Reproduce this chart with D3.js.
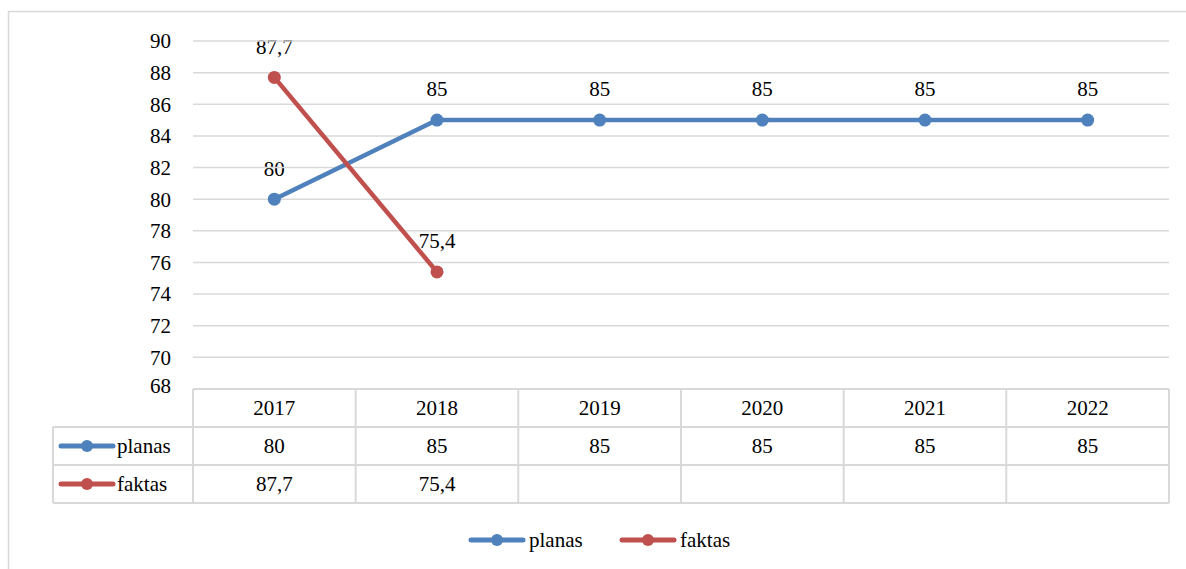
<!DOCTYPE html>
<html>
<head>
<meta charset="utf-8">
<script src="https://cdn.jsdelivr.net/npm/d3@7"></script>
</head>
<body style="margin:0">
<svg id="chart" width="1186" height="569" font-family="Times New Roman, serif" font-size="21"></svg>
<script>
const years = ['2017', '2018', '2019', '2020', '2021', '2022'];
const planas = [80, 85, 85, 85, 85, 85];
const faktas = [87.7, 75.4, null, null, null, null];
const yTicks = [68, 70, 72, 74, 76, 78, 80, 82, 84, 86, 88, 90];
const seriesNames = ['planas', 'faktas'];
const seriesColors = ['#4F81BD', '#C0504D'];

const svg = d3.select('#chart');
const margin = { top: 41, left: 193, right: 17 };
const plotH = 348;
const width = 1186;

const fmt = v => (v == null ? '' : String(v).replace('.', ','));

const x = d3.scaleBand().domain(years).range([margin.left, width - margin.right]);
const y = d3.scaleLinear().domain([68, 90]).range([margin.top + plotH, margin.top]);

// all text first, marks after
const textLayer = svg.append('g');
const markLayer = svg.append('g');

// outer frame
markLayer.append('rect')
  .attr('x', 8.5).attr('y', 11.5)
  .attr('width', 1200).attr('height', 600)
  .attr('fill', 'none').attr('stroke', '#d9d9d9').attr('stroke-width', 1.5);

// gridlines
markLayer.append('g').selectAll('line').data(yTicks.filter(d => d !== 68)).join('line')
  .attr('x1', margin.left).attr('x2', width - margin.right)
  .attr('y1', d => y(d)).attr('y2', d => y(d))
  .attr('stroke', '#d9d9d9').attr('stroke-width', 1.5);

// y axis labels
textLayer.selectAll('text.ytick').data(yTicks).join('text')
  .attr('class', 'ytick')
  .attr('x', margin.left - 22).attr('y', d => y(d))
  .attr('dy', d => (d === 68 ? '0.2em' : '0.35em'))
  .attr('text-anchor', 'end')
  .text(d => d);

// data table
const rowH = 38;
const tableTop = y(68);
const legendColX = 53;
function hline(x1, x2, yy) {
  markLayer.append('line').attr('x1', x1).attr('x2', x2).attr('y1', yy).attr('y2', yy)
    .attr('stroke', '#d9d9d9').attr('stroke-width', 2);
}
function vline(xx, y1, y2) {
  markLayer.append('line').attr('x1', xx).attr('x2', xx).attr('y1', y1).attr('y2', y2)
    .attr('stroke', '#d9d9d9').attr('stroke-width', 2);
}
hline(margin.left, width - margin.right, tableTop);
hline(legendColX, width - margin.right, tableTop + rowH);
hline(legendColX, width - margin.right, tableTop + 2 * rowH);
hline(legendColX, width - margin.right, tableTop + 3 * rowH);
vline(legendColX, tableTop + rowH, tableTop + 3 * rowH);
years.forEach(yr => vline(x(yr), tableTop, tableTop + 3 * rowH));
vline(width - margin.right, tableTop, tableTop + 3 * rowH);

textLayer.selectAll('text.year').data(years).join('text')
  .attr('class', 'year')
  .attr('x', d => x(d) + x.bandwidth() / 2)
  .attr('y', tableTop + rowH / 2)
  .attr('dy', '0.35em').attr('text-anchor', 'middle')
  .text(d => d);

function legendKey(cx, cy, color) {
  markLayer.append('line').attr('x1', cx - 26).attr('x2', cx + 26).attr('y1', cy).attr('y2', cy)
    .attr('stroke', color).attr('stroke-width', 5).attr('stroke-linecap', 'round');
  markLayer.append('circle').attr('cx', cx).attr('cy', cy).attr('r', 6).attr('fill', color);
}

[planas, faktas].forEach((vals, i) => {
  const cy = tableTop + rowH * (i + 1.5);
  legendKey(87, cy, seriesColors[i]);
  textLayer.append('text').attr('x', 117).attr('y', cy).attr('dy', '0.35em')
    .text(seriesNames[i]);
  textLayer.selectAll(null).data(years).join('text')
    .attr('x', d => x(d) + x.bandwidth() / 2)
    .attr('y', cy).attr('dy', '0.35em').attr('text-anchor', 'middle')
    .text((d, j) => fmt(vals[j]));
});

// lines
const line = d3.line()
  .defined(d => d.v != null)
  .x(d => x(d.yr) + x.bandwidth() / 2)
  .y(d => y(d.v));

[planas, faktas].forEach((vals, i) => {
  const pts = years.map((yr, j) => ({ yr, v: vals[j] }));
  markLayer.append('path').datum(pts).attr('d', line)
    .attr('fill', 'none').attr('stroke', seriesColors[i])
    .attr('stroke-width', 4.5).attr('stroke-linejoin', 'round');
  const def = pts.filter(d => d.v != null);
  markLayer.append('g').selectAll('circle').data(def).join('circle')
    .attr('cx', d => x(d.yr) + x.bandwidth() / 2).attr('cy', d => y(d.v))
    .attr('r', 6.5).attr('fill', seriesColors[i]);
  textLayer.append('g').selectAll('text').data(def).join('text')
    .attr('x', d => x(d.yr) + x.bandwidth() / 2).attr('y', d => y(d.v) - 31)
    .attr('dy', '0.35em').attr('text-anchor', 'middle')
    .text(d => fmt(d.v));
});

// bottom legend
const legendY = 540;
const legendX = [497, 648];
seriesNames.forEach((n, i) => {
  legendKey(legendX[i], legendY, seriesColors[i]);
  textLayer.append('text').attr('x', legendX[i] + 32).attr('y', legendY).attr('dy', '0.35em')
    .text(n);
});
</script>
</body>
</html>
